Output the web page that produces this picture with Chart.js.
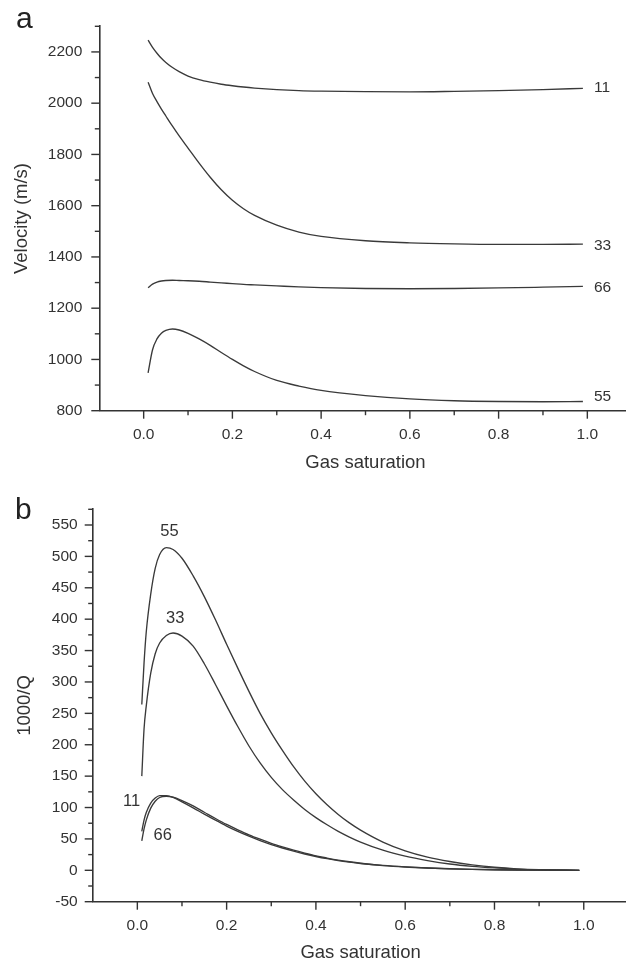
<!DOCTYPE html>
<html>
<head>
<meta charset="utf-8">
<script src="https://cdn.jsdelivr.net/npm/chart.js@4"></script>
<style>
  html, body { margin: 0; padding: 0; background: #fff; overflow: hidden; width: 626px; height: 965px; }
  .panel { position: absolute; left: 0; }
  #wrapA { top: 0; }
  #wrapB { top: 485px; }
</style>
</head>
<body>
<div class="panel" id="wrapA"><canvas id="chartA" width="640" height="485"></canvas></div>
<div class="panel" id="wrapB"><canvas id="chartB" width="640" height="480"></canvas></div>
<script>
/* global Chart */

// ---- panel a: velocity vs gas saturation ----
const satA   = [0.01, 0.02, 0.03, 0.04, 0.05, 0.065, 0.08, 0.1, 0.125, 0.15, 0.175, 0.2, 0.225, 0.25, 0.3, 0.35, 0.4, 0.5, 0.6, 0.7, 0.8, 0.9, 0.99];
const velA11 = [2246, 2218, 2195, 2175, 2159, 2139, 2123, 2106, 2092, 2082, 2074, 2068, 2063, 2059, 2053, 2049, 2047, 2045, 2044, 2046, 2049, 2053, 2058];
const velA33 = [2082, 2038, 2006, 1977, 1950, 1910, 1872, 1825, 1766, 1711, 1662, 1621, 1588, 1562, 1524, 1497, 1480, 1463, 1455, 1451, 1449, 1449, 1450];
const velA66 = [1280, 1294, 1302, 1306, 1308, 1309, 1308, 1307, 1305, 1302, 1299, 1296, 1293, 1291, 1287, 1283, 1280, 1277, 1276, 1277, 1279, 1282, 1285];
const velA55 = [948, 1038, 1080, 1102, 1113, 1119, 1115, 1102, 1080, 1055, 1027, 1000, 975, 953, 918, 896, 879, 859, 846, 839, 836, 835, 836];

// ---- panel b: 1000/Q vs gas saturation ----
const satB  = [0.01, 0.015, 0.02, 0.03, 0.04, 0.05, 0.065, 0.08, 0.1, 0.125, 0.15, 0.175, 0.2, 0.225, 0.25, 0.275, 0.3, 0.325, 0.35, 0.375, 0.4, 0.425, 0.45, 0.475, 0.5, 0.55, 0.6, 0.65, 0.7, 0.75, 0.8, 0.85, 0.9, 0.99];
const qB55  = [264, 330, 380, 440, 481, 503, 514, 511, 497, 469, 436, 399, 360, 322, 285, 250, 219, 191, 165, 142, 122, 104.5, 89, 75.5, 64, 45, 31, 21, 14, 8.7, 4.8, 2.3, 0.9, 0];
const qB33  = [150, 225, 262, 314, 345, 362, 374, 378, 373, 357, 329, 296, 262, 229, 198, 171, 148, 128.5, 112, 97, 84, 72.5, 62, 53, 45, 32, 22.5, 15.5, 10, 6.3, 3.8, 2, 0.9, 0];
const qB11  = [62, 80, 92, 107, 115, 119, 119, 116, 109, 99.5, 89.5, 79.8, 70.5, 62, 54.3, 47.3, 41, 35.5, 30.5, 26, 22, 18.5, 15.5, 13, 10.8, 7.5, 5.2, 3.6, 2.4, 1.5, 0.9, 0.45, 0.2, 0];
const qB66  = [47, 66, 80, 99, 110, 116, 118, 116.5, 111, 102.5, 92.5, 82.5, 73, 64.5, 56.5, 49.5, 43, 37.3, 32, 27.3, 23, 19.5, 16.3, 13.6, 11.3, 7.8, 5.4, 3.7, 2.5, 1.6, 0.95, 0.5, 0.2, 0];

// tick values
const satMajor  = [0, 0.2, 0.4, 0.6, 0.8, 1.0];
const satMinor  = [0.1, 0.3, 0.5, 0.7, 0.9, 1.1];
const velMajor  = [800, 1000, 1200, 1400, 1600, 1800, 2000, 2200];
const velMinor  = [900, 1100, 1300, 1500, 1700, 1900, 2100, 2300];
const qMajor    = [-50, 0, 50, 100, 150, 200, 250, 300, 350, 400, 450, 500, 550];
const qMinor    = [-25, 25, 75, 125, 175, 225, 275, 325, 375, 425, 475, 525, 575];

// curve labels (text, x, y in data units)
const labelsA = [['11', 1.015, 2062], ['33', 1.015, 1442], ['66', 1.015, 1278], ['55', 1.015, 853]];
const labelsB = [['55', 0.072, 540], ['33', 0.085, 401], ['11', -0.013, 109], ['66', 0.057, 55]];

const INK  = '#333';
const LINE = '#3a3a3a';
const FONT = "'Liberation Sans', Arial, sans-serif";
const TICKFONT  = { family: FONT, size: 15.5 };
const TITLEFONT = { family: FONT, size: 18.5 };

function series(xs, ys) {
  return {
    data: xs.map((x, i) => ({ x, y: ys[i] })),
    borderColor: LINE,
    borderWidth: 1.35,
    pointRadius: 0,
    fill: false,
    cubicInterpolationMode: 'monotone',
  };
}

function tickPlugin(spec) {
  return {
    id: 'axisTicks',
    afterDraw(chart) {
      const ctx = chart.ctx;
      ctx.save();
      ctx.strokeStyle = INK;
      ctx.lineWidth = 1.4;
      Object.keys(spec).forEach(id => {
        const s = chart.scales[id];
        const draw = (vals, len) => vals.forEach(v => {
          const p = s.getPixelForValue(v);
          ctx.beginPath();
          if (s.isHorizontal()) { ctx.moveTo(p, s.top); ctx.lineTo(p, s.top + len); }
          else { ctx.moveTo(s.right, p); ctx.lineTo(s.right - len, p); }
          ctx.stroke();
        });
        draw(spec[id].major, 8);
        draw(spec[id].minor, 4.5);
      });
      ctx.restore();
    },
  };
}

function textPlugin(labels, size, align, letter, lx, ly) {
  return {
    id: 'curveText',
    afterDraw(chart) {
      const ctx = chart.ctx;
      const xs = chart.scales.x, ys = chart.scales.y;
      ctx.save();
      ctx.fillStyle = INK;
      ctx.font = size + 'px ' + FONT;
      ctx.textAlign = align;
      ctx.textBaseline = 'middle';
      labels.forEach(([t, x, y]) => {
        ctx.fillText(t, xs.getPixelForValue(x), ys.getPixelForValue(y));
      });
      ctx.font = '30px ' + FONT;
      ctx.textAlign = 'left';
      ctx.textBaseline = 'alphabetic';
      ctx.fillStyle = '#222';
      ctx.fillText(letter, lx, ly);
      ctx.restore();
    },
  };
}

function makeChart(id, cfg) {
  return new Chart(document.getElementById(id), {
    type: 'line',
    data: { datasets: cfg.datasets },
    options: {
      responsive: false,
      animation: false,
      events: [],
      layout: { autoPadding: false, padding: cfg.padding },
      plugins: { legend: { display: false }, tooltip: { enabled: false } },
      scales: {
        x: {
          type: 'linear', min: -0.1, max: 1.1,
          afterBuildTicks: s => { s.ticks = satMajor.map(v => ({ value: v })); },
          afterFit: s => { s.height = cfg.xHeight; },
          grid: { display: false, drawTicks: false },
          border: { display: true, color: INK, width: 1.6 },
          ticks: { padding: 15, autoSkip: false, maxRotation: 0, color: INK, font: TICKFONT,
                   callback: v => v.toFixed(1) },
          title: { display: true, text: 'Gas saturation', color: INK, font: TITLEFONT,
                   padding: { top: 0, bottom: cfg.xTitlePad } },
        },
        y: {
          type: 'linear', min: cfg.yMin, max: cfg.yMax,
          afterBuildTicks: s => { s.ticks = cfg.yMajor.map(v => ({ value: v })); },
          afterFit: s => { s.width = cfg.yWidth; },
          grid: { display: false, drawTicks: false },
          border: { display: true, color: INK, width: 1.6 },
          ticks: { padding: cfg.yTickPad, autoSkip: false, color: INK, font: TICKFONT,
                   callback: v => String(v) },
          title: { display: true, text: cfg.yTitle, color: INK, font: TITLEFONT,
                   padding: { top: cfg.yTitlePad, bottom: 0 } },
        },
      },
    },
    plugins: [
      tickPlugin({ x: { major: satMajor, minor: satMinor }, y: { major: cfg.yMajor, minor: cfg.yMinor } }),
      textPlugin(cfg.labels, cfg.labelSize, cfg.labelAlign, cfg.letter, cfg.letterX, cfg.letterY),
    ],
  });
}

makeChart('chartA', {
  datasets: [series(satA, velA11), series(satA, velA33), series(satA, velA66), series(satA, velA55)],
  padding: { top: 15, left: 0, right: 8.3, bottom: 0 },
  xHeight: 74.3, xTitlePad: 11,
  yMin: 800, yMax: 2300, yMajor: velMajor, yMinor: velMinor,
  yWidth: 99.3, yTickPad: 17, yTitle: 'Velocity (m/s)', yTitlePad: 11,
  labels: labelsA, labelSize: 15.5, labelAlign: 'left',
  letter: 'a', letterX: 16, letterY: 28,
});

makeChart('chartB', {
  datasets: [series(satB, qB55), series(satB, qB33), series(satB, qB11), series(satB, qB66)],
  padding: { top: 21, left: 0, right: 11.6, bottom: 0 },
  xHeight: 63.3, xTitlePad: 0.6,
  yMin: -50, yMax: 575, yMajor: qMajor, yMinor: qMinor,
  yWidth: 92.7, yTickPad: 15, yTitle: '1000/Q', yTitlePad: 14,
  labels: labelsB, labelSize: 16.5, labelAlign: 'center',
  letter: 'b', letterX: 15, letterY: 34,
});
</script>
</body>
</html>
